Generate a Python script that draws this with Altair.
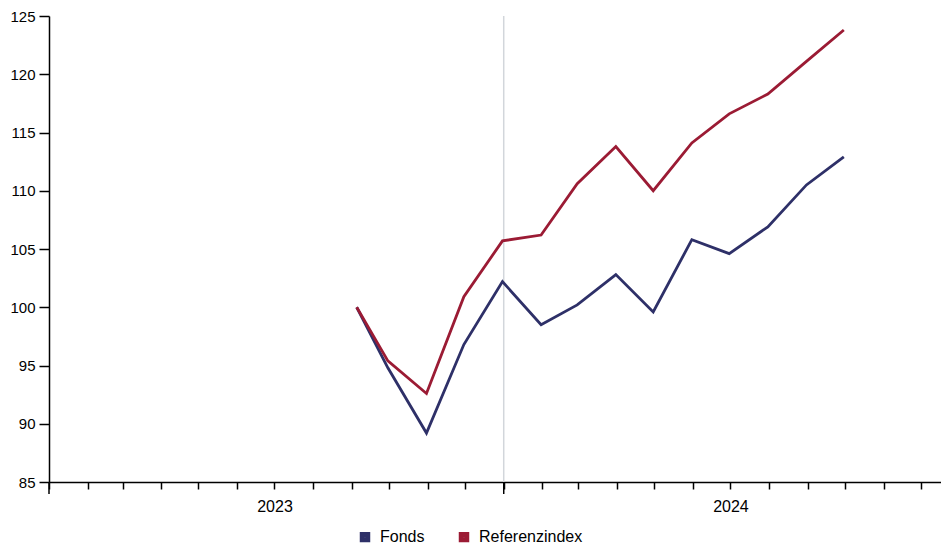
import altair as alt
import pandas as pd

dates = ["2023-09-05", "2023-09-30", "2023-10-31", "2023-11-30", "2023-12-31",
         "2024-01-31", "2024-02-29", "2024-03-31", "2024-04-30", "2024-05-31",
         "2024-06-30", "2024-07-31", "2024-08-31", "2024-09-30"]
fonds = [100.0, 94.8, 89.2, 96.8, 102.2, 98.5, 100.2, 102.8, 99.6, 105.8,
         104.6, 106.9, 110.5, 112.9]
referenz = [100.0, 95.4, 92.6, 100.9, 105.7, 106.2, 110.6, 113.8, 110.0, 114.1,
            116.6, 118.3, 121.1, 123.8]
series_names = ["Fonds", "Referenzindex"]
series_colors = ["#2e3068", "#9b1b34"]
year_starts = ["2023-01-01", "2024-01-01"]
divider = ["2024-01-01"]

df = pd.DataFrame({
    "date": dates * 2,
    "value": fonds + referenz,
    "series": [series_names[0]] * len(dates) + [series_names[1]] * len(dates),
})

month_ticks = [int(pd.Timestamp(f"{y}-{m:02d}-01", tz="UTC").value // 10**6)
               for y in (2023, 2024) for m in range(1, 13)]

W, H = 892, 466
xscale = alt.Scale(type="utc",
                   domain=[alt.DateTime(year=2023, month=1, date=1, utc=True),
                           alt.DateTime(year=2024, month=12, date=17, utc=True)])

xaxis = alt.Axis(values=month_ticks, tickSize=7, tickWidth=1.5, tickColor="black",
                 domainColor="black", domainWidth=1.5, grid=False,
                 labelExpr="utcmonth(datum.value) == 6 ? utcyear(datum.value) : ''",
                 labelOverlap=False, labelPadding=9, labelFontSize=16,
                 labelFont="Liberation Sans", labelColor="black", title=None)
yaxis = alt.Axis(values=list(range(85, 126, 5)), tickSize=10, tickWidth=1.5,
                 tickColor="black", domainColor="black", domainWidth=1.5,
                 grid=False, labelPadding=4, labelFontSize=15,
                 labelFont="Liberation Sans", labelColor="black", title=None)

div_df = pd.DataFrame({"date": divider})
rule = alt.Chart(div_df).mark_rule(color="#d2d6db", strokeWidth=1.5).encode(
    x=alt.X("date:T", scale=xscale, axis=xaxis)
)

major_df = pd.DataFrame({"date": year_starts})
major = alt.Chart(major_df).mark_rule(color="black", strokeWidth=1.5).encode(
    x=alt.X("date:T", scale=xscale, axis=xaxis),
    y=alt.value(H), y2=alt.value(H + 12)
)

lines = alt.Chart(df).mark_line(strokeWidth=2.8, strokeJoin="miter").encode(
    x=alt.X("date:T", scale=xscale, axis=xaxis),
    y=alt.Y("value:Q", scale=alt.Scale(domain=[85, 125], nice=False, zero=False), axis=yaxis),
    color=alt.Color("series:N",
                    scale=alt.Scale(domain=series_names, range=series_colors),
                    legend=alt.Legend(title=None, orient="none", direction="horizontal",
                                      legendX=308, legendY=513,
                                      symbolType="square", symbolSize=30,
                                      symbolStrokeWidth=5, symbolOpacity=1,
                                      labelFontSize=16, labelFont="Liberation Sans",
                                      labelColor="black", labelOffset=7,
                                      columnPadding=26))
)

chart = alt.layer(rule, major, lines).properties(
    width=W, height=H,
    padding={"left": 1, "top": 1, "right": 0, "bottom": 0}
).configure_view(stroke=None)

chart.save("out.html", embed_options={"renderer": "svg", "actions": False})
